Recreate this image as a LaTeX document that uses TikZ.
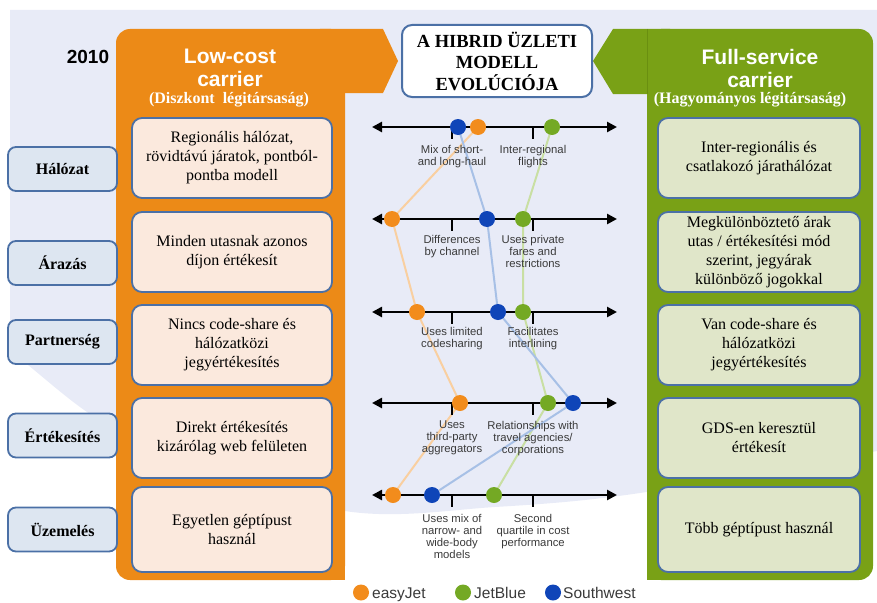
\documentclass[tikz,border=0pt]{standalone}
\usepackage{fontspec}
\setmainfont{Liberation Serif}
\setsansfont{Liberation Sans}
\usetikzlibrary{arrows.meta}
\pgfdeclarelayer{back}
\pgfdeclarelayer{mid}
\pgfsetlayers{back,mid,main}
\definecolor{lav}{HTML}{E8EBF7}
\definecolor{panelO}{HTML}{EC8A17}
\definecolor{panelG}{HTML}{79A116}
\definecolor{panelGd}{HTML}{6A8F10}
\definecolor{peach}{HTML}{FBE9DD}
\definecolor{gbox}{HTML}{E0E6C9}
\definecolor{cbox}{HTML}{DDE6F1}
\definecolor{bordB}{HTML}{4B70A6}
\definecolor{dotO}{HTML}{F28C1C}
\definecolor{dotG}{HTML}{74A924}
\definecolor{dotB}{HTML}{0F45B8}
\definecolor{lineO}{HTML}{F9CFA0}
\definecolor{lineG}{HTML}{C9DFA3}
\definecolor{lineB}{HTML}{A7C0E6}
\definecolor{labgray}{HTML}{3A3A3A}
\tikzset{
  lbox/.style={draw=bordB, line width=1.8pt, fill=peach, rounded corners=10pt,
    minimum width=200pt, minimum height=80pt, align=center, inner sep=2pt,
    font=\fontsize{16}{19}\selectfont},
  rbox/.style={lbox, fill=gbox, minimum width=202pt},
  catbox/.style={draw=bordB, line width=1.8pt, fill=cbox, rounded corners=8pt,
    minimum width=109pt, minimum height=44pt, inner sep=0pt,
    font=\bfseries\fontsize{16}{18}\selectfont},
  titlebox/.style={draw=bordB, line width=2pt, fill=white, rounded corners=10pt,
    minimum width=190pt, minimum height=72pt, align=center, inner sep=0pt,
    font=\bfseries\fontsize{18.5}{21.5}\selectfont},
  hdr/.style={text=white, align=center, inner sep=0pt,
    font=\sffamily\bfseries\fontsize{21}{23}\selectfont},
  subhdr/.style={text=white, inner sep=0pt, font=\bfseries\fontsize{16}{17}\selectfont},
  axisline/.style={line width=2.5pt, {Triangle[length=10pt,width=10pt]}-{Triangle[length=10pt,width=10pt]}},
  tickmark/.style={line width=2pt},
  lab/.style={text=labgray, align=center, inner sep=0pt, anchor=north,
    font=\sffamily\fontsize{11.3}{12}\selectfont},
  dotst/.style={circle, inner sep=0pt, minimum size=16pt},
  conn/.style={line width=2pt},
  legtext/.style={text=labgray, anchor=base west, inner sep=0pt,
    font=\sffamily\fontsize{15.5}{17}\selectfont}
}
\begin{document}
\begin{tikzpicture}[x=1pt,y=-1pt]
\useasboundingbox (0,0) rectangle (877,602);
% background
\begin{pgfonlayer}{back}
\fill[lav] (10,10) -- (877,10) --
  plot[smooth, tension=0.55] coordinates {(877,451) (640,493) (495,507) (345,511) (160,455) (87,412) (28,365) (10,351)}
  -- cycle;
% orange panel
\fill[panelO, rounded corners=14pt] (116,29) rectangle (345,580);
\fill[panelO] (300,540) rectangle (345,580);
\fill[panelO] (320,29) -- (383,29) -- (398,61) -- (383,93) -- (320,93) -- cycle;
% green panel
\fill[panelG, rounded corners=14pt] (647,29) rectangle (873,580);
\fill[panelG] (647,540) rectangle (690,580);
\fill[panelG] (593,61) -- (613,29) -- (670,29) -- (670,94) -- (613,94) -- cycle;
\draw[panelGd, line width=0.8pt] (647,29) -- (647,94);
\end{pgfonlayer}

% headers
\node[font=\sffamily\bfseries\fontsize{19}{21}\selectfont] (year) at (88,57) {2010};
\node[hdr] (lcc) at (230,68) {Low-cost\\carrier};
\node[subhdr] (lccs) at (229,100) {(Diszkont\ \ légitársaság)};
\node[hdr] (fsc) at (760,68) {Full-service\\carrier};
\node[subhdr] (fscs) at (750,100) {(Hagyományos légitársaság)};
\node[titlebox] (title) at (497,61) {A HIBRID ÜZLETI\\MODELL\\EVOLÚCIÓJA};

% category boxes
\node[catbox] (c1) at (62.5,169) {Hálózat};
\node[catbox] (c2) at (62.5,263) {Árazás};
\node[catbox] (c3) at (62.5,342) {Partnerség};
\node[catbox] (c4) at (62.5,435.5) {Értékesítés};
\node[catbox] (c5) at (62.5,529.5) {Üzemelés};

% left boxes
\node[lbox] (l1) at (232,158) {Regionális hálózat,\\rövidtávú járatok, pontból-\\pontba modell};
\node[lbox] (l2) at (232,252) {Minden utasnak azonos\\díjon értékesít};
\node[lbox] (l3) at (232,345) {Nincs code-share és\\hálózatközi\\jegyértékesítés};
\node[lbox] (l4) at (232,438) {Direkt értékesítés\\kizárólag web felületen};
\node[lbox, minimum height=85pt] (l5) at (232,529.5) {Egyetlen géptípust\\használ};

% right boxes
\node[rbox] (r1) at (759,158) {Inter-regionális és\\csatlakozó járathálózat};
\node[rbox] (r2) at (759,252) {Megkülönböztető árak\\utas / értékesítési mód\\szerint, jegyárak\\különböző jogokkal};
\node[rbox] (r3) at (759,345) {Van code-share és\\hálózatközi\\jegyértékesítés};
\node[rbox] (r4) at (759,438) {GDS-en keresztül\\értékesít};
\node[rbox, minimum height=85pt] (r5) at (759,529.5) {Több géptípust használ};

% axes
\foreach \i/\y in {1/127,2/219,3/312,4/403,5/495} {
  \coordinate (L\i) at (372,\y);
  \coordinate (R\i) at (617,\y);
  \coordinate (ta\i) at (452,\y);
  \coordinate (tb\i) at (533,\y);
  \draw[axisline] (L\i) -- (R\i);
  \draw[tickmark] (ta\i) -- ++(0,12);
  \draw[tickmark] (tb\i) -- ++(0,12);
}

% tick labels
\node[lab] (x1a) at (452,145) {Mix of short-\\and long-haul};
\node[lab] (x1b) at (533,145) {Inter-regional\\flights};
\node[lab] (x2a) at (452,235) {Differences\\by channel};
\node[lab] (x2b) at (533,235) {Uses private\\fares and\\restrictions};
\node[lab] (x3a) at (452,327) {Uses limited\\codesharing};
\node[lab] (x3b) at (533,327) {Facilitates\\interlining};
\node[lab] (x4a) at (452,421) {Uses\\third-party\\aggregators};
\node[lab] (x4b) at (533,421) {Relationships with\\travel agencies/\\corporations};
\node[lab] (x5a) at (452,514) {Uses mix of\\narrow- and\\wide-body\\models};
\node[lab] (x5b) at (533,514) {Second\\quartile in cost\\performance};

% dots
\node[dotst, fill=dotO] (e1) at (478,127) {};
\node[dotst, fill=dotO] (e2) at (392,219) {};
\node[dotst, fill=dotO] (e3) at (417,312) {};
\node[dotst, fill=dotO] (e4) at (460,403) {};
\node[dotst, fill=dotO] (e5) at (393,495) {};
\node[dotst, fill=dotG] (j1) at (552,127) {};
\node[dotst, fill=dotG] (j2) at (523,219) {};
\node[dotst, fill=dotG] (j3) at (523,312) {};
\node[dotst, fill=dotG] (j4) at (548,403) {};
\node[dotst, fill=dotG] (j5) at (494,495) {};
\node[dotst, fill=dotB] (s1) at (458,127) {};
\node[dotst, fill=dotB] (s2) at (487,219) {};
\node[dotst, fill=dotB] (s3) at (498,312) {};
\node[dotst, fill=dotB] (s4) at (573,403) {};
\node[dotst, fill=dotB] (s5) at (432,495) {};

% connectors
\begin{pgfonlayer}{mid}
\draw[conn, lineO] (e1.center) -- (e2.center) -- (e3.center) -- (e4.center) -- (e5.center);
\draw[conn, lineG] (j1.center) -- (j2.center) -- (j3.center) -- (j4.center) -- (j5.center);
\draw[conn, lineB] (s1.center) -- (s2.center) -- (s3.center) -- (s4.center) -- (s5.center);
\end{pgfonlayer}

% legend
\node[dotst, fill=dotO] (gE) at (361,592.5) {};
\node[legtext] (tE) at (372,598) {easyJet};
\node[dotst, fill=dotG] (gJ) at (463,592.5) {};
\node[legtext] (tJ) at (474,598) {JetBlue};
\node[dotst, fill=dotB] (gS) at (553,592.5) {};
\node[legtext] (tS) at (563,598) {Southwest};
\end{tikzpicture}
\end{document}
